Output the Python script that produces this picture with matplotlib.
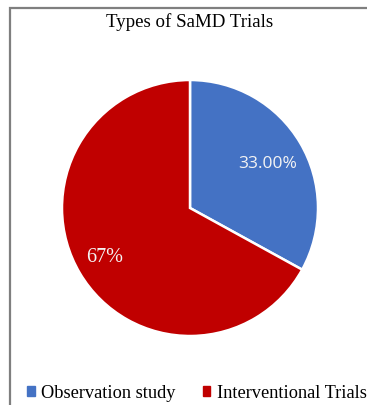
import matplotlib.pyplot as plt
from matplotlib.patches import Rectangle

labels = ['Observation study', 'Interventional Trials']
shares = [33.0, 67.0]
value_text = ['33.00%', '67%']
colors = ['#4472c4', '#c00000']

fig = plt.figure(figsize=(3.67, 4.05), dpi=100)

# chart frame (runs off the right and bottom edges)
fig.add_artist(Rectangle((10 / 367, -0.05), 1.1, 1 - 7.5 / 405 + 0.05,
                         transform=fig.transFigure, fill=False,
                         edgecolor='#7f7f7f', linewidth=1.6))

ax = fig.add_axes([(190 - 128) / 367, 1 - (208 + 128) / 405,
                   256 / 367, 256 / 405])
wedges, _ = ax.pie(shares, colors=colors, startangle=90, counterclock=False,
                   radius=1.0, wedgeprops=dict(edgecolor='white', linewidth=1.8))
ax.set_xlim(-1.0, 1.0)
ax.set_ylim(-1.0, 1.0)
ax.set_aspect('equal')
ax.axis('off')

ax.text(0.61, 0.34, value_text[0], color='#f4f4f4', fontsize=12.5,
        family='Open Sans', ha='center', va='center')
ax.text(-0.67, -0.39, value_text[1], color='#f4f4f4', fontsize=14.5,
        family='Liberation Serif', ha='center', va='center')

fig.text(190 / 367, 1 - 22 / 405, 'Types of SaMD Trials', ha='center',
         va='center', fontsize=13.6, family='Liberation Serif')

handles = [Rectangle((0, 0), 1, 1, color=c) for c in colors]
fig.legend(handles, labels, loc='center', bbox_to_anchor=(197 / 367, 1 - 393 / 405),
           ncol=2, frameon=False, handlelength=0.4, handleheight=0.4,
           handletextpad=0.35, columnspacing=1.5,
           prop={'family': 'Liberation Serif', 'size': 13.2})

fig.savefig('out.png', dpi=100)
